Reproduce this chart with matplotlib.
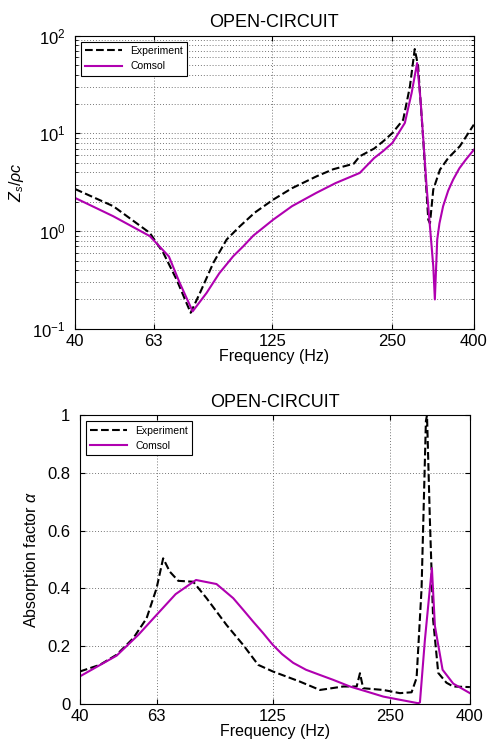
import numpy as np
import matplotlib
matplotlib.use('Agg')
import matplotlib.pyplot as plt
from matplotlib.ticker import FixedLocator, NullLocator, LogLocator, NullFormatter

plt.rcParams['font.family'] = ['Liberation Sans', 'DejaVu Sans']
plt.rcParams['mathtext.fontset'] = 'custom'
plt.rcParams['mathtext.rm'] = 'Liberation Sans'
plt.rcParams['mathtext.it'] = 'Liberation Sans:italic'

# impedance (top)
f_exp_z = [40, 49.9, 61.6, 66.6, 71.9, 78.0, 82.3, 88.9, 96.0, 103.6, 113, 125.6, 140, 161.4,
           177.7, 200, 207, 225, 237, 250, 266, 276.5, 284.4, 290, 298.7, 307.5, 310.5, 316.5,
           329, 345, 369, 400]
z_exp = [2.7, 1.8, 0.96, 0.6, 0.32, 0.146, 0.233, 0.473, 0.82, 1.12, 1.55, 2.1, 2.75, 3.64,
         4.3, 4.9, 5.83, 7.0, 8.3, 10.1, 13.8, 30, 73, 48.6, 8.6, 1.31, 1.2, 2.66,
         4.26, 5.6, 7.4, 12.3]
f_com_z = [40, 49.9, 61.6, 68.8, 73.1, 78.9, 85.5, 92, 99.7, 105.7, 112, 125.6, 140, 161, 180,
           207, 225, 237, 250, 268.6, 279.3, 288.3, 294, 304.5, 316.5, 319.4, 323.8, 328, 335,
           345, 355, 368, 382, 400]
z_com = [2.19, 1.42, 0.89, 0.55, 0.30, 0.151, 0.233, 0.37, 0.553, 0.70, 0.9, 1.31, 1.8, 2.46,
         3.1, 3.94, 5.6, 6.6, 8.0, 12.8, 25.9, 52.5, 22.3, 2.88, 0.437, 0.2, 0.82, 1.2, 1.8,
         2.6, 3.37, 4.4, 5.4, 6.8]

# absorption (bottom)
f_exp_a = [40, 45, 49.7, 54.8, 59.3, 62.9, 65.4, 68.0, 71.5, 78.1, 84.5, 95.1, 104.9, 114.6,
           125, 146.6, 165, 189.3, 205, 209, 213, 240, 264.6, 283.5, 292, 300.7, 308.5,
           310.5, 315.8, 322, 331.8, 348.3, 362.5, 400]
a_exp = [0.112, 0.135, 0.17, 0.227, 0.296, 0.40, 0.504, 0.458, 0.426, 0.423, 0.366, 0.273,
         0.204, 0.135, 0.112, 0.077, 0.048, 0.06, 0.06, 0.106, 0.054, 0.048, 0.037, 0.04,
         0.09, 0.40, 0.98, 1.0, 0.638, 0.29, 0.107, 0.073, 0.06, 0.058]
f_com_a = [40, 49.7, 56.5, 62.9, 70.4, 79.4, 89.6, 98.9, 105, 111.2, 118, 125, 132, 140.9,
           152, 165, 178.5, 197, 217, 240, 264.6, 294.9, 297.8, 306.6, 315.8, 319.6, 325.3,
           340.4, 362.5, 400]
a_com = [0.095, 0.167, 0.239, 0.308, 0.38, 0.429, 0.415, 0.366, 0.325, 0.285, 0.245, 0.204,
         0.172, 0.142, 0.118, 0.10, 0.083, 0.06, 0.043, 0.025, 0.014, 0.002, 0.005, 0.22,
         0.40, 0.47, 0.27, 0.118, 0.07, 0.037]

xticks = [40, 63, 125, 250, 400]
magenta = '#b000b0'
gridc = '#777777'

fig = plt.figure(figsize=(4.9, 7.44), dpi=100)

ax1 = fig.add_axes([0.153, 0.558, 0.814, 0.394])
ax1.plot(f_exp_z, z_exp, 'k--', lw=1.5, label='Experiment')
ax1.plot(f_com_z, z_com, color=magenta, lw=1.5, label='Comsol')
ax1.set_xscale('log')
ax1.set_yscale('log')
ax1.set_xlim(40, 400)
ax1.set_ylim(0.1, 100)
ax1.yaxis.set_minor_locator(LogLocator(base=10, subs=np.arange(2, 10)))
ax1.yaxis.set_minor_formatter(NullFormatter())
ax1.grid(True, which='both', axis='y', ls=(0, (1, 2)), color=gridc, lw=0.7)
ax1.set_title('OPEN-CIRCUIT', fontsize=13)
ax1.set_xlabel('Frequency (Hz)', fontsize=11.5, labelpad=0)
ax1.set_ylabel(r'$Z_s/\rho c$', fontsize=11.5)

ax2 = fig.add_axes([0.163, 0.054, 0.796, 0.388])
ax2.plot(f_exp_a, a_exp, 'k--', lw=1.5, label='Experiment')
ax2.plot(f_com_a, a_com, color=magenta, lw=1.5, label='Comsol')
ax2.set_xscale('log')
ax2.set_xlim(40, 400)
ax2.set_ylim(0, 1)
ax2.set_yticks([0, 0.2, 0.4, 0.6, 0.8, 1])
ax2.set_yticklabels(['0', '0.2', '0.4', '0.6', '0.8', '1'])
ax2.grid(True, axis='y', ls=(0, (1, 2)), color=gridc, lw=0.7)
ax2.set_title('OPEN-CIRCUIT', fontsize=13)
ax2.set_xlabel('Frequency (Hz)', fontsize=11.5, labelpad=0)
ax2.set_ylabel(r'Absorption factor $\alpha$', fontsize=11.5)

for ax in (ax1, ax2):
    ax.xaxis.set_major_locator(FixedLocator(xticks))
    ax.xaxis.set_minor_locator(NullLocator())
    ax.set_xticklabels([str(t) for t in xticks])
    ax.grid(True, which='major', axis='x', ls=(0, (1, 2)), color=gridc, lw=0.7)
    ax.tick_params(direction='in', which='both', top=True, right=True, labelsize=12)
    ax.tick_params(axis='x', pad=4)
    ax.tick_params(axis='y', pad=7)
    ax.tick_params(which='minor', length=2)
    leg = ax.legend(loc='upper left', fontsize=7.5, fancybox=False, framealpha=1,
                    edgecolor='black', handlelength=3.5, borderaxespad=0.6)
    leg.get_frame().set_linewidth(0.8)

fig.savefig('out.png', dpi=100)
